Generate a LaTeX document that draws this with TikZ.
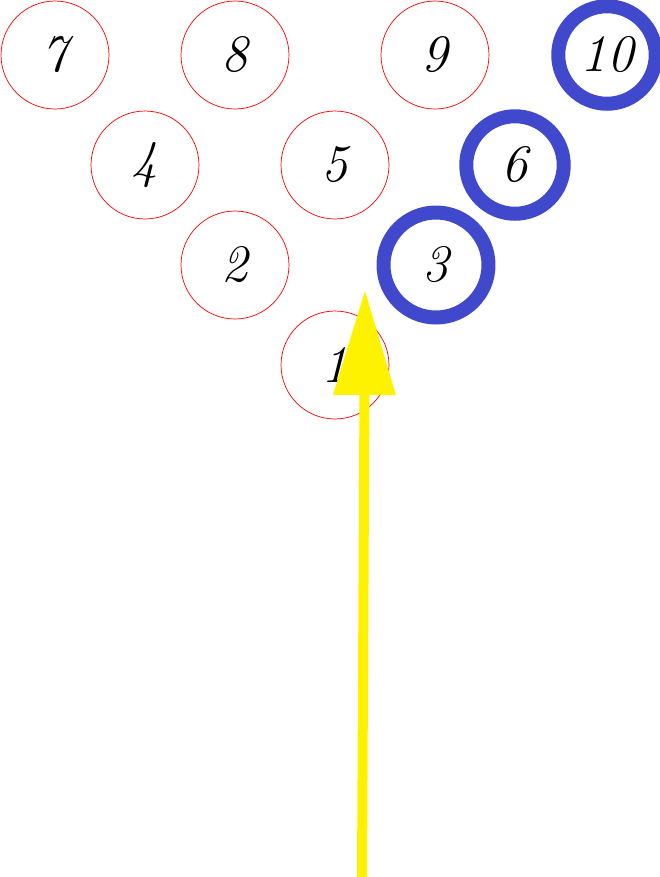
\documentclass[tikz,border=0pt]{standalone}
\usetikzlibrary{arrows.meta}
\tikzset{
  pin/.style={circle, draw=red, line width=0.4pt, minimum size=2.16cm, inner sep=0pt,
    font=\fontsize{30}{30}\selectfont\itshape},
  hitpin/.style={pin, draw={rgb,255:red,64;green,72;blue,204}, line width=2.8mm, minimum size=1.95cm},
}
\begin{document}
\begin{tikzpicture}[x=0.02cm, y=-0.02cm]
    \useasboundingbox (0,0) rectangle (660,877) ;
    \node [pin] (p7) at (55,55) {7} ;
    \node [pin] (p8) at (235,55) {8} ;
    \node [pin] (p9) at (435,55) {9} ;
    \node [hitpin] (p10) at (607,55) {10} ;
    \node [pin] (p4) at (145,165) {4} ;
    \node [pin] (p5) at (335,165) {5} ;
    \node [hitpin] (p6) at (515,165) {6} ;
    \node [pin] (p2) at (235,265) {2} ;
    \node [hitpin, minimum size=2.1cm] (p3) at (436,265) {3} ;
    \node [pin] (p1) at (335,365) {1} ;

    \coordinate (start) at (362,877) ;
    \coordinate (aim) at (365,290) ;
    \draw [yellow, line width=2mm, -{Triangle[width=1.2cm, length=2.1cm]}] (start) -- (aim) ;
\end{tikzpicture}
\end{document}
